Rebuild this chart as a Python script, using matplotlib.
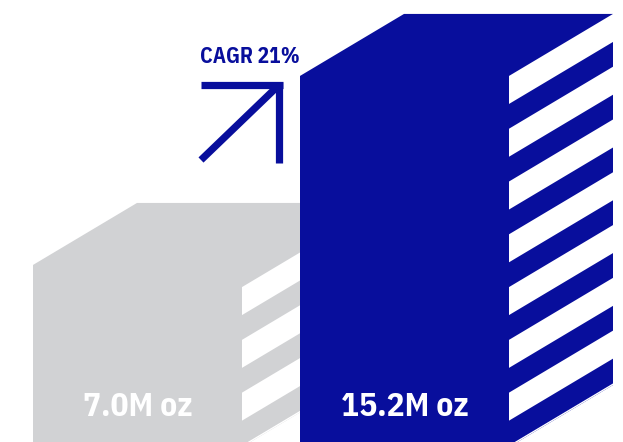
import matplotlib
matplotlib.use("Agg")
import matplotlib.pyplot as plt
from matplotlib.patches import Polygon

# data
labels = ["7.0M oz", "15.2M oz"]
values = [7.0, 15.2]
colors = ["#d1d2d4", "#080e9c"]
cagr_text = "CAGR 21%"

font = ["IBM Plex Sans Condensed", "DejaVu Sans"]

# layout (x in pixels, y in value units)
lefts = [33, 300]
width = 209
depth_x = 104
depth_y = 2.69
base = -0.9
stripe_period = 2.29
stripe_h = 1.215
px_per_unit = 23.05
zero_px = 426.3

fig = plt.figure(figsize=(6.23, 4.42), dpi=100)
ax = fig.add_axes([0, 0, 1, 1])
ax.set_xlim(0, 623)
ax.set_ylim(-(442 - zero_px) / px_per_unit, zero_px / px_per_unit)
ax.axis("off")


def py(p):
    # pixel row -> value units
    return (zero_px - p) / px_per_unit


for i, (lab, val, col) in enumerate(zip(labels, values, colors)):
    x0 = lefts[i]
    x1 = x0 + width
    x2 = x1 + depth_x
    z = 2 * i + 1
    shape = [(x0, base), (x0, val), (x0 + depth_x, val + depth_y),
             (x2, val + depth_y), (x2, base + depth_y), (x1, base)]
    ax.add_patch(Polygon(shape, closed=True, facecolor=col, edgecolor="none", zorder=z))
    # white stripes on the side face, shared grid anchored on the tallest bar
    top = max(values)
    while top > base:
        t = min(top, val)
        b = max(top - stripe_h, base)
        if t > b:
            stripe = [(x1, t), (x2, t + depth_y), (x2, b + depth_y), (x1, b)]
            ax.add_patch(Polygon(stripe, closed=True, facecolor="white",
                                 edgecolor="none", zorder=z + 0.5))
        top -= stripe_period
    ax.text(x0 + width / 2, py(407), lab, color="white", fontsize=24,
            fontweight="bold", family=font, ha="center", va="center", zorder=10)

# growth arrow
lw = 5.2
ax.plot([201, 283], [py(85), py(85)], color=colors[1], lw=lw, solid_capstyle="butt")
ax.plot([279, 279], [py(82), py(163)], color=colors[1], lw=lw, solid_capstyle="butt")
ax.plot([279, 201], [py(85), py(160)], color=colors[1], lw=lw, solid_capstyle="butt")
ax.text(200, py(63), cagr_text, color=colors[1], fontsize=15.5, fontweight="bold",
        family=font, ha="left", va="baseline")

fig.savefig("out.png", dpi=100)
